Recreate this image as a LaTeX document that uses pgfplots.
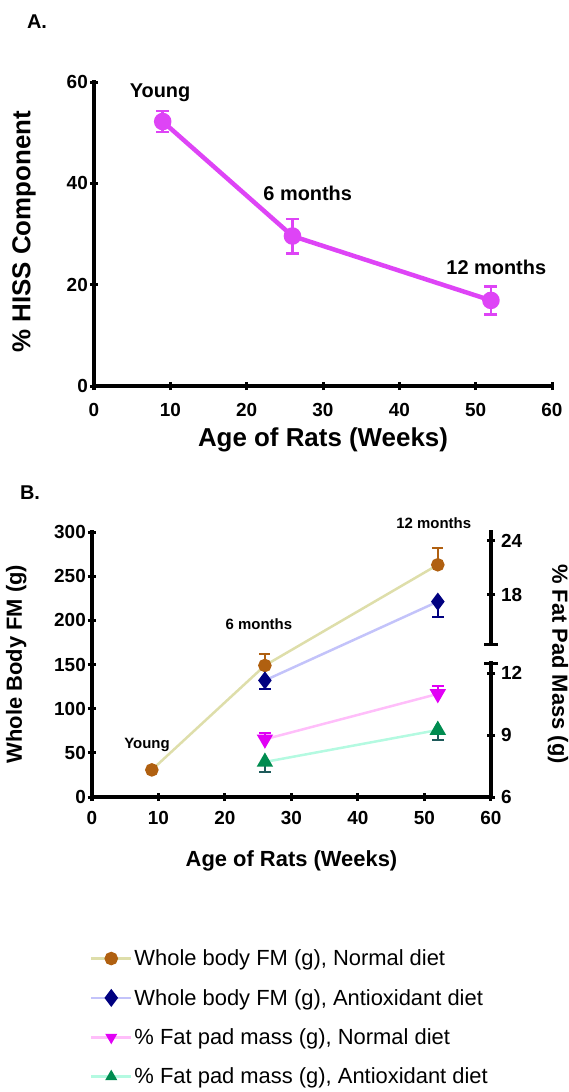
\documentclass[border=0pt]{standalone}
\usepackage{fontspec}
\setmainfont{Liberation Sans}
\usepackage{pgfplots}
\pgfplotsset{compat=1.18}
\definecolor{magA}{RGB}{222,68,246}
\definecolor{brownM}{RGB}{176,96,16}
\definecolor{khakiL}{RGB}{222,222,170}
\definecolor{navyM}{RGB}{0,0,128}
\definecolor{lavL}{RGB}{195,195,250}
\definecolor{magM}{RGB}{225,0,245}
\definecolor{pinkL}{RGB}{255,190,250}
\definecolor{greenM}{RGB}{0,140,80}
\definecolor{greenE}{RGB}{30,90,90}
\definecolor{aquaL}{RGB}{180,250,225}
\pgfplotsset{
  myax/.style={scale only axis, clip=false,
    tick style={line width=3bp, black},
    major tick length=8bp, tick align=outside,
    ticklabel style={font=\bfseries\fontsize{19}{22}\selectfont, inner sep=2bp},
    /pgf/number format/assume math mode=true,
  },
  noarrows/.style={
    axis line style={-, line width=3.5bp, line cap=rect},
    every outer x axis line/.append style={-},
    every outer y axis line/.append style={-},
    every inner x axis line/.append style={-},
    every inner y axis line/.append style={-},
  },
}
\begin{document}
\begin{tikzpicture}
\path[use as bounding box] (0bp,0bp) rectangle (569bp,-1092bp);
\node[font=\bfseries\fontsize{20}{24}\selectfont] at (37bp,-22bp) {A.};
\node[font=\bfseries\fontsize{20}{24}\selectfont] at (30bp,-493bp) {B.};

% ---------- Panel A ----------
\begin{axis}[myax, at={(94bp,-386bp)}, anchor=south west,
  width=458bp, height=304bp,
  xmin=0, xmax=60, ymin=0, ymax=60,
  axis lines=left, noarrows,
  xtick={0,10,...,60}, ytick={0,20,40,60},
  xticklabel style={yshift=-11bp},
  label style={font=\bfseries\fontsize{26}{30}\selectfont},
  xlabel={Age of Rats (Weeks)}, ylabel={\% HISS Component},
  xlabel style={at={(axis description cs:0.5,-0.178)}, anchor=center},
  ylabel style={at={(axis description cs:-0.153,0.507)}, anchor=center},
]
\addplot[color=magA, line width=4.5bp, mark=*, mark size=6.5bp,
  mark options={solid},
  error bars/.cd, y dir=both, y explicit,
  error bar style={line width=2.5bp},
  error mark options={line width=2.5bp, mark size=6.5bp, rotate=90}]
  coordinates {(9,52.2) +- (0,2.1) (26,29.6) +- (0,3.4) (52,16.9) +- (0,2.75)};
\node[font=\bfseries\fontsize{20}{24}\selectfont] at (axis cs:8.65,57.8) {Young};
\node[font=\bfseries\fontsize{20}{24}\selectfont] at (axis cs:28.0,38.1) {6 months};
\node[font=\bfseries\fontsize{20}{24}\selectfont] at (axis cs:52.7,23.5) {12 months};
\end{axis}

% ---------- Panel B main ----------
\begin{axis}[myax, at={(92bp,-797bp)}, anchor=south west,
  width=399bp, height=265bp,
  xmin=0, xmax=60, ymin=0, ymax=300,
  axis x line=bottom, axis y line=left, noarrows,
  xtick={0,10,...,60}, ytick={0,50,...,300},
  xticklabel style={yshift=-8bp},
  label style={font=\bfseries\fontsize{22}{26}\selectfont},
  xlabel={Age of Rats (Weeks)}, ylabel={Whole Body FM (g)},
  xlabel style={at={(axis description cs:0.5,-0.242)}, anchor=center},
  ylabel style={at={(axis description cs:-0.19,0.502)}, anchor=center},
  legend style={draw=none, fill=none, at={(axis description cs:-0.013,-0.561)}, anchor=north west,
    font=\fontsize{22}{26}\selectfont, row sep=18bp, legend cell align=left},
  legend image code/.code={\draw[mark repeat=2, mark phase=2, #1] plot coordinates {(0bp,0bp) (20bp,0bp) (40bp,0bp)};},
]
\addplot[color=khakiL, line width=2.5bp, mark=*, mark size=5.5bp,
  mark options={draw=brownM, fill=brownM},
  error bars/.cd, y dir=plus, y explicit,
  error bar style={color=brownM, line width=2bp},
  error mark options={color=brownM, line width=2bp, mark size=5.5bp, rotate=90}]
  coordinates {(9,30.7) +- (0,0) (26,148.9) +- (0,12.7) (52,262.9) +- (0,19.5)};
\addlegendentry{Whole body FM (g), Normal diet}
\addplot[color=lavL, line width=2.5bp, mark=diamond*, mark size=7bp,
  mark options={draw=navyM, fill=navyM},
  error bars/.cd, y dir=minus, y explicit,
  error bar style={color=navyM, line width=2bp},
  error mark options={color=navyM, line width=2bp, mark size=6bp, rotate=90}]
  coordinates {(26,132.0) +- (0,10.0) (52,221.2) +- (0,17.0)};
\addlegendentry{Whole body FM (g), Antioxidant diet}
\addlegendimage{color=pinkL, line width=2.5bp, mark=triangle*, mark size=4.5bp, mark options={rotate=180, draw=magM, fill=magM}}
\addlegendentry{\% Fat pad mass (g), Normal diet}
\addlegendimage{color=aquaL, line width=2.5bp, mark=triangle*, mark size=4.5bp, mark options={draw=greenM, fill=greenM}}
\addlegendentry{\% Fat pad mass (g), Antioxidant diet}
\node[font=\bfseries\fontsize{15}{18}\selectfont] at (axis cs:8.27,58.9) {Young};
\node[font=\bfseries\fontsize{15}{18}\selectfont] at (axis cs:25.1,195.8) {6 months};
\node[font=\bfseries\fontsize{15}{18}\selectfont] at (axis cs:51.4,310.2) {12 months};
\node[font=\bfseries\fontsize{22}{26}\selectfont, rotate=-90] at (axis description cs:1.168,0.502) {\% Fat Pad Mass (g)};
\end{axis}

% ---------- Panel B right axis, lower segment ----------
\begin{axis}[myax, at={(92bp,-797bp)}, anchor=south west,
  width=399bp, height=134bp,
  xmin=0, xmax=60, ymin=6, ymax=12.5,
  hide x axis, axis y line=right, noarrows,
  ytick={6,9,12},
  yticklabel style={xshift=4bp},
  extra y ticks={12.5}, extra y tick labels={},
  extra y tick style={tick align=center, major tick length=14bp},
]
\addplot[color=pinkL, line width=2.5bp, mark=triangle*, mark size=7bp,
  mark options={rotate=180, draw=magM, fill=magM},
  error bars/.cd, y dir=plus, y explicit,
  error bar style={color=magM, line width=2bp},
  error mark options={color=magM, line width=2bp, mark size=6bp, rotate=90}]
  coordinates {(26,8.8) +- (0,0.3) (52,11.0) +- (0,0.4)};
\addplot[color=aquaL, line width=2.5bp, mark=triangle*, mark size=7bp,
  mark options={draw=greenM, fill=greenM},
  error bars/.cd, y dir=minus, y explicit,
  error bar style={color=greenE, line width=2bp},
  error mark options={color=greenE, line width=2bp, mark size=6bp, rotate=90}]
  coordinates {(26,7.7) +- (0,0.5) (52,9.25) +- (0,0.5)};
\end{axis}

% ---------- Panel B right axis, upper segment ----------
\begin{axis}[myax, at={(92bp,-644bp)}, anchor=south west,
  width=399bp, height=112bp,
  xmin=0, xmax=60, ymin=12.5, ymax=25,
  hide x axis, axis y line=right, noarrows,
  ytick={18,24},
  yticklabel style={xshift=4bp},
  extra y ticks={12.5}, extra y tick labels={},
  extra y tick style={tick align=center, major tick length=14bp},
]
\end{axis}
\end{tikzpicture}
\end{document}
